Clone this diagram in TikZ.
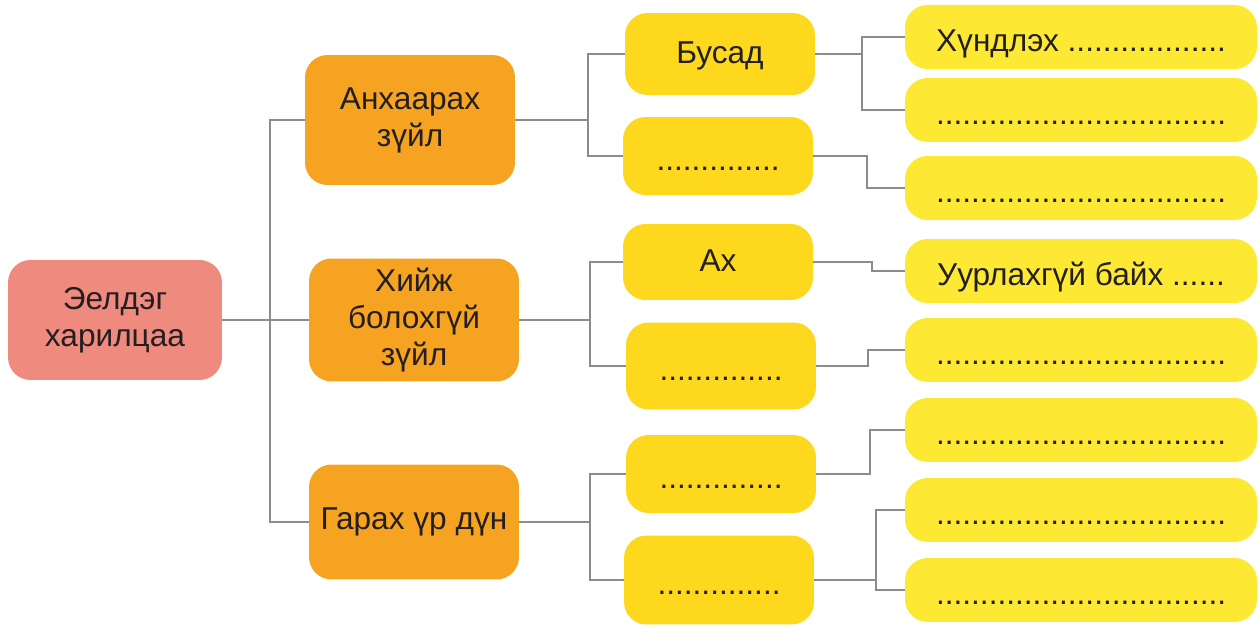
\documentclass[tikz,border=0pt]{standalone}
\usepackage{fontspec}
\setmainfont{Liberation Sans}

\definecolor{rootred}{HTML}{EF8A7E}
\definecolor{deeporange}{HTML}{F5A320}
\definecolor{midyellow}{HTML}{FDD81C}
\definecolor{lightyellow}{HTML}{FDE834}
\definecolor{pencil}{HTML}{8C8C8C}
\definecolor{ink}{HTML}{231F20}

\tikzset{
  box/.style={rounded corners=0.45cm, text=ink, align=center, inner sep=2pt,
    font=\fontsize{18}{21}\selectfont},
  rootbox/.style={box, fill=rootred, minimum width=4.28cm, minimum height=2.4cm},
  topicbox/.style={box, fill=deeporange, minimum width=4.2cm},
  midbox/.style={box, fill=midyellow, minimum width=3.8cm, text height=11pt, text depth=0pt},
  blankbox/.style={midbox, text height=16pt},
  answerbox/.style={box, fill=lightyellow, minimum width=7.04cm, minimum height=1.28cm,
    text height=16pt, text depth=0pt},
  link/.style={draw=pencil, line width=1.1pt}
}

\begin{document}
\begin{tikzpicture}[x=0.02cm, y=-0.02cm]
  \useasboundingbox (0,0) rectangle (1260,634);

  % root and the three topics
  \node[rootbox] (root) at (115,320) {Эелдэг\\харилцаа};
  \node[topicbox, minimum height=2.6cm] (care) at (410,120) {Анхаарах\\зүйл};
  \node[topicbox, minimum height=2.46cm] (dont) at (414,320) {Хийж\\болохгүй\\зүйл};
  \node[topicbox, minimum height=2.3cm] (result) at (414,522) {Гарах үр дүн};

  % middle column
  \node[midbox, minimum height=1.64cm] (other) at (720,54) {Бусад};
  \node[blankbox, minimum height=1.56cm] (blankA) at (718,156) {..............};
  \node[midbox, minimum height=1.52cm] (brother) at (718,262) {Ах};
  \node[blankbox, minimum height=1.74cm] (blankB) at (721,366) {..............};
  \node[blankbox, minimum height=1.56cm] (blankC) at (721,474) {..............};
  \node[blankbox, minimum height=1.78cm] (blankD) at (719,580) {..............};

  % right column
  \foreach \name/\y/\txt in {r1/37/{Хүндлэх ..................},
      r2/110/{.................................}, r3/188/{.................................},
      r4/271/{Уурлахгүй байх ......}, r5/350/{.................................},
      r6/430/{.................................}, r7/510/{.................................},
      r8/590/{.................................}}{
    \node[answerbox] (\name) at (1081,\y) {\txt};
  }

  % connectors
  \coordinate (trunk) at (270,0);
  \draw[link] (root.east) -- (dont.west);
  \draw[link] (care.west) -- (care.west -| trunk) -- (result.west -| trunk) -- (result.west);

  \foreach \topic/\up/\down/\x in {care/other/blankA/588, dont/brother/blankB/590, result/blankC/blankD/590}{
    \coordinate (fork) at (\x,0);
    \draw[link] (\topic.east) -- (\topic.east -| fork);
    \draw[link] (\up.west) -- (\up.west -| fork) -- (\down.west -| fork) -- (\down.west);
  }

  \foreach \from/\to/\x in {blankA/r3/867, brother/r4/872, blankB/r5/868, blankC/r6/870}{
    \coordinate (jog) at (\x,0);
    \draw[link] (\from.east) -- (\from.east -| jog) -- (\to.west -| jog) -- (\to.west);
  }

  \coordinate (pairA) at (862,0);
  \draw[link] (other.east) -- (other.east -| pairA);
  \draw[link] (r1.west) -- (r1.west -| pairA) -- (r2.west -| pairA) -- (r2.west);
  \coordinate (pairB) at (876,0);
  \draw[link] (blankD.east) -- (blankD.east -| pairB);
  \draw[link] (r7.west) -- (r7.west -| pairB) -- (r8.west -| pairB) -- (r8.west);
\end{tikzpicture}
\end{document}
